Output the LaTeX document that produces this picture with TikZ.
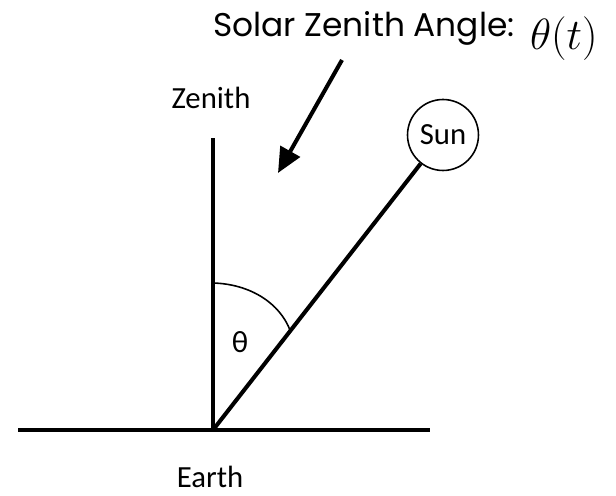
\documentclass[tikz,border=0pt]{standalone}
\usepackage{fontspec}
\setmainfont{Carlito}
\newfontfamily\titlefont{Poppins}
\usetikzlibrary{positioning, arrows.meta, calc}

\begin{document}
\begin{tikzpicture}[
    x=0.02cm, y=-0.02cm,
    thick_line/.style={line width=2.3pt, black},
    thin_line/.style={line width=0.9pt, black},
    label_font/.style={font=\fontsize{17.5}{20}\selectfont},
    sun_circle/.style={draw, circle, line width=0.9pt, minimum size=1.42cm, inner sep=0pt, font=\fontsize{17.5}{20}\selectfont},
    pointer_arrow/.style={-{Triangle[length=5mm, width=4.4mm]}, line width=2.3pt}
]
\useasboundingbox (0,0) rectangle (616,496);

% 1. Title and pointer
\node[anchor=base east, inner sep=0pt] (title) at (515,37)
    {\titlefont\fontsize{18.7}{21}\selectfont Solar Zenith Angle:};
\node[anchor=base east, inner sep=0pt] (title_math) at (598,50)
    {\fontsize{33}{36}\selectfont$\theta(t)$};
\coordinate (arrow_tail) at (342,60);
\coordinate (arrow_tip) at (278,173);
\draw[pointer_arrow] (arrow_tail) -- (arrow_tip);

% 2. Zenith, Earth and Sun
\coordinate (origin) at (213,430);
\coordinate (zenith_top) at (213,138);
\coordinate (ground_left) at (18,430);
\coordinate (ground_right) at (430,430);
\node[label_font] (zenith) at (211,98) {Zenith};
\node[label_font, anchor=base, inner sep=0pt] (earth) at (210,488) {Earth};
\node[sun_circle] (sun) at (443,135) {Sun};

\draw[thick_line] (ground_left) -- (ground_right);
\draw[thick_line] (origin) -- (zenith_top);
\draw[thick_line] (origin) -- (sun);

% 3. Angle arc
\coordinate (arc_start) at (213,283);
\coordinate (arc_end) at ($(origin)!0.336!(sun.center)$);
\draw[thin_line] (arc_start) .. controls (250,284) and (280,303) .. (arc_end);
\node[label_font] (theta) at (240,342) {θ};

\end{tikzpicture}
\end{document}
